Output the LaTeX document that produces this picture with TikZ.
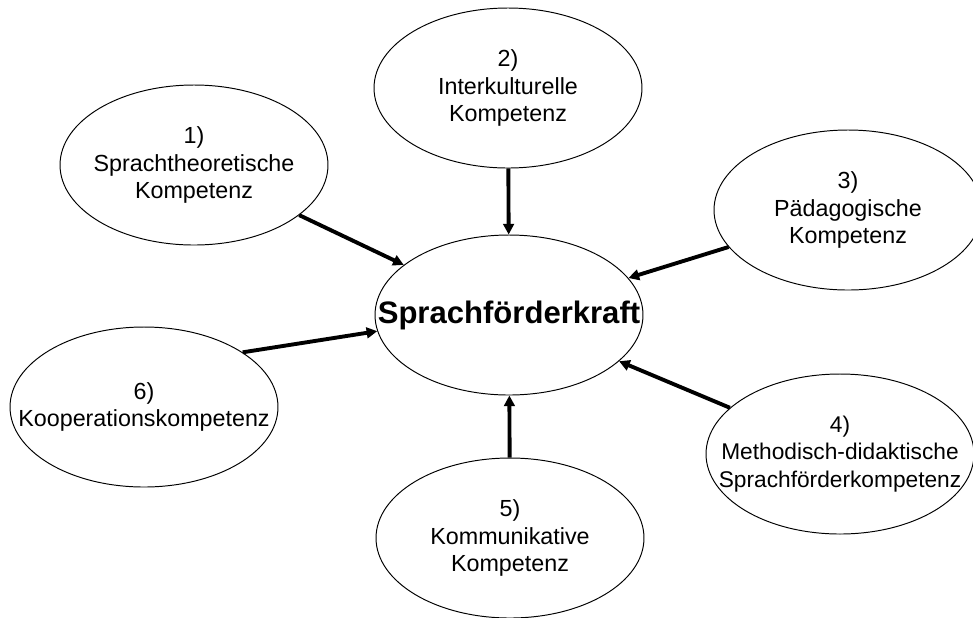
\documentclass[tikz,border=0pt]{standalone}
\usepackage{fontspec}
\setmainfont{Liberation Sans}
\usepackage{tikz}
\usetikzlibrary{shapes.geometric}
\usetikzlibrary{arrows.meta}

\begin{document}
\begin{tikzpicture}[
x=0.515pt, y=-0.515pt,
MyEllipse/.style={draw, ellipse, line width=0.5pt, minimum width=138pt, minimum height=82.4pt, inner sep=0pt},
MyText/.style={align=center, font=\fontsize{12}{14}\selectfont},
MyArrows/.style={-{Triangle[length=5.5pt, width=5.5pt]}, line width=2pt}
]
\useasboundingbox (0,0) rectangle (973,617);

% the centre
\node[MyEllipse] (Kraft) at (509,315) {};
\node[MyText, font=\fontsize{16}{19}\selectfont\bfseries] (KraftText) at (Kraft) {Sprachförderkraft};

% the six competences
\node[MyEllipse] (K1) at (194,165) {};
\node[MyText] (K1Text) at (K1) {1)\\Sprachtheoretische\\Kompetenz};

\node[MyEllipse] (K2) at (508,88) {};
\node[MyText] (K2Text) at (K2) {2)\\Interkulturelle\\Kompetenz};

\node[MyEllipse] (K3) at (848,210) {};
\node[MyText] (K3Text) at (K3) {3)\\Pädagogische\\Kompetenz};

\node[MyEllipse] (K4) at (840,454) {};
\node[MyText, font=\fontsize{11.7}{14}\selectfont] (K4Text) at (K4) {4)\\Methodisch-didaktische\\Sprachförderkompetenz};

\node[MyEllipse] (K5) at (510,538) {};
\node[MyText] (K5Text) at (K5) {5)\\Kommunikative\\Kompetenz};

\node[MyEllipse] (K6) at (144,407) {};
\node[MyText] (K6Text) at (K6) {6)\\Kooperationskompetenz};

% arrows into the centre
\draw[MyArrows] (K1) -- (Kraft);
\draw[MyArrows] (K2) -- (Kraft);
\draw[MyArrows] (K3) -- (Kraft);
\draw[MyArrows] (K4) -- (Kraft);
\draw[MyArrows] (K5) -- (Kraft);
\draw[MyArrows] (K6.29) -- (Kraft.187);

\end{tikzpicture}
\end{document}
